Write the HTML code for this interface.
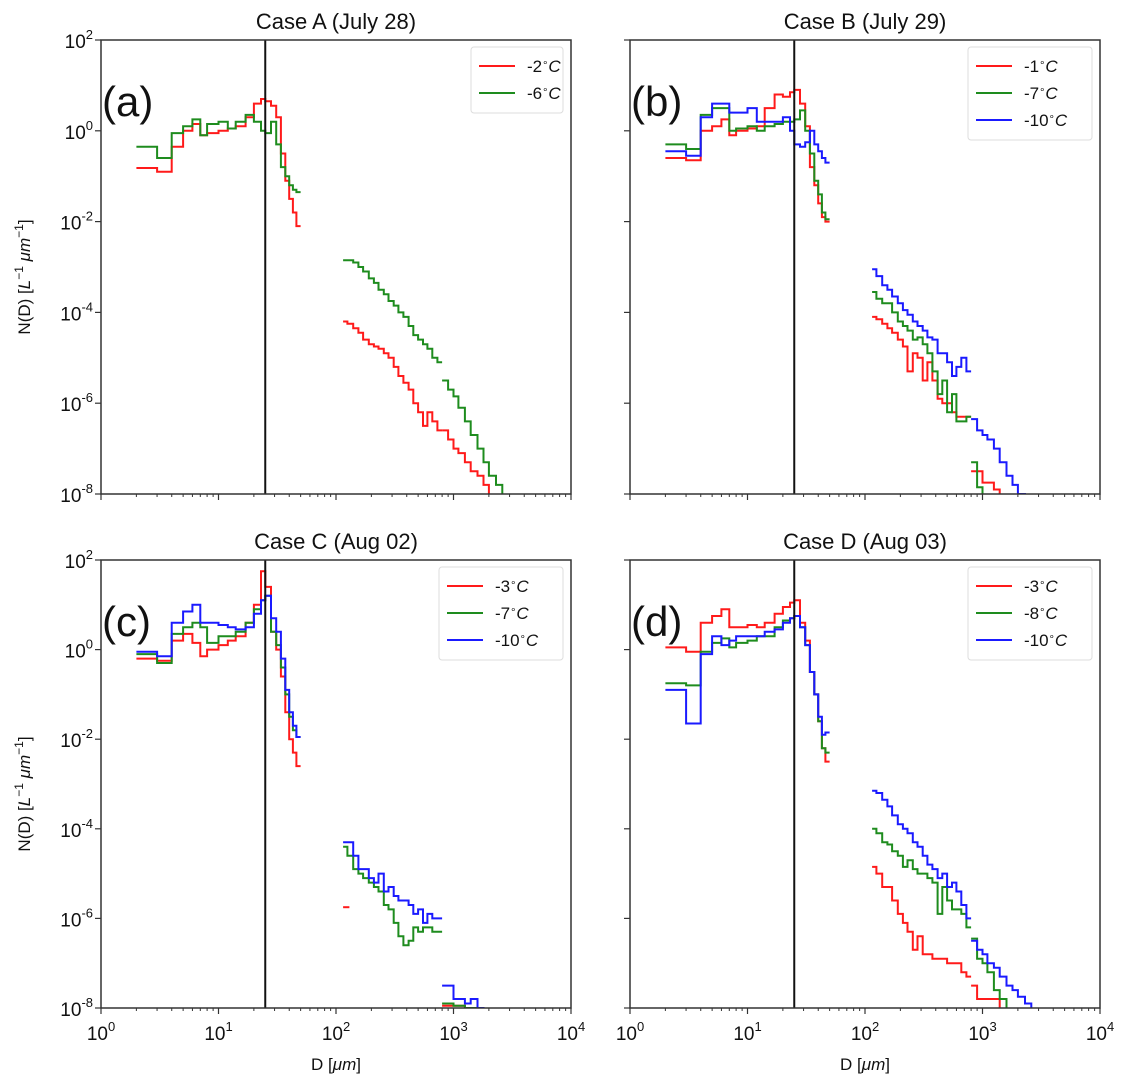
<!DOCTYPE html>
<html><head><meta charset="utf-8"><style>
body{margin:0;background:#fff;}
svg{display:block;font-family:"Liberation Sans",sans-serif;}
</style></head><body>
<svg id="fig" width="1141" height="1082" xmlns="http://www.w3.org/2000/svg"></svg>
<script>
// ---- data: D edges (µm) and log10 N(D) per bin ----
const smallD=[2,3,4,5,6,7,8,10,12,14,17,20,23,25,28,31,34,37,40,43,46,50];
const aRedS=[-0.82,-0.9,-0.35,0.0,0.15,-0.1,-0.05,0.0,0.05,0.1,0.3,0.6,0.7,0.65,0.55,0.3,-0.5,-1.1,-1.5,-1.8,-2.1];
const aGrnS=[-0.35,-0.6,-0.05,0.1,0.25,-0.1,0.15,0.2,0.05,0.2,0.35,0.2,0.0,-0.05,0.2,-0.3,-0.8,-1.0,-1.2,-1.3,-1.35];
const bRedS=[-0.6,-0.65,0.0,0.1,0.25,-0.1,0.0,0.05,0.1,0.5,0.8,0.75,0.85,0.9,0.6,0.1,-0.8,-1.2,-1.6,-1.9,-2.0];
const bGrnS=[-0.3,-0.4,0.35,0.5,0.5,0.0,0.05,0.1,0.0,0.1,0.15,0.2,0.2,0.25,0.45,0.0,-0.5,-1.1,-1.4,-1.8,-1.95];
const bBluS=[-0.45,-0.55,0.3,0.6,0.6,0.4,0.4,0.5,0.2,0.2,0.2,0.3,0.0,-0.3,-0.35,-0.25,0.0,-0.3,-0.45,-0.6,-0.7];
const cRedS=[-0.2,-0.25,0.2,0.35,0.15,-0.15,0.0,0.1,0.2,0.3,0.6,1.0,1.75,1.4,0.4,0.0,-0.6,-1.4,-2.0,-2.3,-2.6];
const cGrnS=[-0.1,-0.3,0.35,0.5,0.6,0.5,0.15,0.3,0.3,0.4,0.6,0.9,1.1,1.2,0.4,0.1,-0.4,-1.0,-1.5,-1.8,-1.95];
const cBluS=[-0.05,-0.15,0.6,0.85,1.0,0.6,0.6,0.55,0.5,0.45,0.5,0.8,1.1,1.2,0.7,0.4,-0.2,-0.9,-1.4,-1.7,-1.95];
const dRedS=[0.05,-0.05,0.6,0.75,0.9,0.5,0.5,0.55,0.5,0.6,0.8,0.95,1.05,1.1,0.6,0.2,-0.5,-1.0,-1.6,-2.2,-2.5];
const dGrnS=[-0.75,-0.8,-0.05,0.15,0.25,0.05,0.15,0.2,0.3,0.3,0.5,0.65,0.7,0.75,0.5,0.1,-0.5,-1.0,-1.6,-2.2,-2.3];
const dBluS=[-0.9,-1.65,-0.1,0.3,0.1,0.2,0.3,0.3,0.3,0.4,0.45,0.6,0.7,0.75,0.5,0.1,-0.5,-1.0,-1.5,-1.9,-1.85];

const largeD=[115,125,140,155,170,190,210,230,255,280,310,340,375,415,455,500,550,600,660,730,800];
const aGrnL=[-2.85,-2.85,-2.9,-3.0,-3.1,-3.25,-3.35,-3.5,-3.6,-3.75,-3.85,-4.0,-4.1,-4.3,-4.5,-4.6,-4.7,-4.8,-5.0,-5.1];
const aRedL=[-4.2,-4.25,-4.35,-4.45,-4.6,-4.7,-4.75,-4.8,-4.9,-5.0,-5.2,-5.4,-5.55,-5.7,-6.0,-6.2,-6.5,-6.2,-6.4,-6.6];
const bBluL=[-3.05,-3.2,-3.4,-3.5,-3.65,-3.8,-3.95,-4.05,-4.2,-4.3,-4.4,-4.55,-4.6,-4.9,-4.9,-5.1,-5.4,-5.2,-5.0,-5.3];
const bGrnL=[-3.55,-3.7,-3.8,-3.8,-4.0,-4.2,-4.3,-4.4,-4.6,-4.55,-4.7,-4.9,-5.3,-5.8,-5.5,-6.2,-5.8,-6.4,-6.4,-6.3];
const bRedL=[-4.1,-4.15,-4.25,-4.35,-4.45,-4.6,-4.75,-5.3,-4.9,-5.0,-5.5,-5.1,-5.5,-5.9,-6.0,-6.0,-6.2,-6.3,-6.3,-6.3];
const cBluL=[-4.3,-4.3,-4.6,-4.9,-4.9,-5.1,-5.2,-5.0,-5.4,-5.3,-5.5,-5.6,-5.6,-5.7,-5.9,-5.8,-6.1,-5.9,-6.0,-6.0];
const cGrnL=[-4.4,-4.6,-4.9,-5.0,-5.1,-5.2,-5.3,-5.4,-5.7,-5.8,-6.1,-6.4,-6.6,-6.5,-6.2,-6.3,-6.2,-6.2,-6.3,-6.3];
const dBluL=[-3.15,-3.2,-3.35,-3.5,-3.7,-3.9,-4.0,-4.1,-4.3,-4.4,-4.6,-4.8,-4.9,-5.1,-5.0,-5.3,-5.2,-5.4,-5.7,-6.0];
const dGrnL=[-4.0,-4.1,-4.3,-4.35,-4.5,-4.6,-4.85,-4.7,-4.9,-5.0,-5.0,-5.1,-5.2,-5.9,-5.3,-5.6,-5.8,-5.8,-5.9,-6.2];
const dRedL=[-4.85,-5.0,-5.3,-5.3,-5.6,-5.9,-6.1,-6.3,-6.7,-6.4,-6.8,-6.8,-6.9,-6.9,-6.9,-7.0,-7.0,-7.0,-7.2,-7.3];
const cRedL=[-5.75,-5.75];
const cRedLD=[115,130];

const tailD=[800,900,1000,1100,1250,1400,1600,1800,2000,2300,2600,2900];
const aGrnT=[-5.5,-5.7,-5.85,-6.1,-6.4,-6.7,-7.0,-7.3,-7.6,-7.8,-8.2];
const aRedT=[-6.6,-6.8,-7.0,-7.1,-7.3,-7.5,-7.6,-7.8,-8.2,-8.5,-8.5];
const bBluT=[-6.35,-6.6,-6.7,-6.8,-7.0,-7.3,-7.6,-7.8,-8.0,-8.5,-8.5];
const bGrnT=[-7.3,-7.85,-8.3,-8.5,-8.5,-8.5,-8.5,-8.5,-8.5,-8.5,-8.5];
const bRedT=[-7.5,-7.5,-7.75,-7.75,-7.9,-8.3,-8.5,-8.5,-8.5,-8.5,-8.5];
const cBluT=[-7.5,-7.5,-7.8,-7.8,-7.9,-7.8,-8.0,-8.5,-8.5,-8.5,-8.5];
const cGrnT=[-7.9,-7.9,-7.95,-7.95,-8.0,-8.0,-8.5,-8.5,-8.5,-8.5,-8.5];
const cRedT=[-7.95,-7.95,-7.95,-7.95,-8.0,-8.5,-8.5,-8.5,-8.5,-8.5,-8.5];
const dBluT=[-6.5,-6.7,-6.8,-7.0,-7.1,-7.3,-7.5,-7.6,-7.75,-7.9,-8.5];
const dGrnT=[-6.45,-6.9,-7.0,-7.2,-7.6,-7.8,-8.5,-8.5,-8.5,-8.5,-8.5];
const dRedT=[-7.5,-7.8,-7.8,-7.8,-7.8,-8.5,-8.5,-8.5,-8.5,-8.5,-8.5];

const xTicks=[0,1,2,3,4];
const yTicks=[2,0,-2,-4,-6,-8];
const titles=["Case A (July 28)","Case B (July 29)","Case C (Aug 02)","Case D (Aug 03)"];
const letters=["(a)","(b)","(c)","(d)"];
const legendA=["-2","-6"], legendB=["-1","-7","-10"], legendC=["-3","-7","-10"], legendD=["-3","-8","-10"];
const cutoffD=25;

const NS="http://www.w3.org/2000/svg";
const svg=document.getElementById('fig');
function mk(tag,attrs,parent){const e=document.createElementNS(NS,tag);for(const k in attrs)e.setAttribute(k,attrs[k]);(parent||svg).appendChild(e);return e;}
const RED="#ff1a1a",GRN="#1e8c1e",BLU="#1a1aff";
const panels=[
 {x0:101,x1:571,y0:40,y1:494,name:'a'},
 {x0:630,x1:1100,y0:40,y1:494,name:'b'},
 {x0:101,x1:571,y0:560,y1:1008,name:'c'},
 {x0:630,x1:1100,y0:560,y1:1008,name:'d'}];
panels.forEach(p=>{p.sx=d=>p.x0+Math.log10(d)/4*(p.x1-p.x0);p.sy=l=>p.y0+(2-l)/10*(p.y1-p.y0);});

function series(p,D,vals,color,g){
  let d="";
  for(let i=0;i<vals.length;i++){
    const x0=p.sx(D[i]),x1=p.sx(D[i+1]);
    const y=p.sy(Math.max(vals[i],-8.6));
    d+=(i===0?"M":"L")+x0.toFixed(1)+","+y.toFixed(1)+"L"+x1.toFixed(1)+","+y.toFixed(1);
  }
  const path=mk('path',{d:d,fill:'none',stroke:color,'stroke-width':2},g);
  
  
}

function panel(i,sets,leg){
  const p=panels[i];
  const g=mk('g',{});
  
  
  const cp=mk('clipPath',{id:'cp'+i},g);
  mk('rect',{x:p.x0,y:p.y0,width:p.x1-p.x0,height:p.y1-p.y0},cp);
  const t=mk('text',{x:(p.x0+p.x1)/2,y:p.y0-11,'text-anchor':'middle','font-size':22,fill:'#111'},g);
  t.textContent=titles[i];
  
  
  const dg=mk('g',{'clip-path':'url(#cp'+i+')'},g);
  sets.forEach(s=>series(p,s[0],s[1],s[2],dg));
  const vl=mk('line',{x1:p.sx(cutoffD),x2:p.sx(cutoffD),y1:p.y0,y2:p.y1,stroke:'#111','stroke-width':2},g);
  
  
  const fr=mk('rect',{x:p.x0,y:p.y0,width:p.x1-p.x0,height:p.y1-p.y0,fill:'none',stroke:'#333','stroke-width':1.5},g);
  
  
  xTicks.forEach(k=>{
    const x=p.sx(Math.pow(10,k));
    mk('line',{x1:x,x2:x,y1:p.y1,y2:p.y1+6,stroke:'#333','stroke-width':1.2},g);
    if(k<4) for(let m=2;m<10;m++){const xm=p.sx(m*Math.pow(10,k));mk('line',{x1:xm,x2:xm,y1:p.y1,y2:p.y1+3,stroke:'#333','stroke-width':1},g);}
    if(i>=2){
      const tl=mk('text',{x:x,y:p.y1+32,'text-anchor':'middle','font-size':19,fill:'#111'},g);
      tl.innerHTML='10<tspan dy="-9" font-size="13">'+k+'</tspan>';
      
      
    }
  });
  yTicks.concat([1,-1,-3,-5,-7]).forEach(k=>{
    const y=p.sy(k);
    mk('line',{x1:p.x0-(k%2===0?6:0),x2:p.x0,y1:y,y2:y,stroke:'#333','stroke-width':1.2},g);
  });
  if(i%2===0){
    yTicks.forEach(k=>{
      const y=p.sy(k);
      const tl=mk('text',{x:p.x0-8,y:y+8,'text-anchor':'end','font-size':19,fill:'#111'},g);
      tl.innerHTML='10<tspan dy="-9" font-size="13">'+k+'</tspan>';
      
      
    });
    const cy=(p.y0+p.y1)/2+10;
    const yl=mk('text',{x:0,y:0,transform:'translate(30,'+cy+') rotate(-90)','text-anchor':'middle','font-size':17,fill:'#111'},g);
    yl.innerHTML='N(D) [<tspan font-style="italic">L</tspan><tspan dy="-7" font-size="12">−1</tspan><tspan dy="7">  </tspan><tspan font-style="italic">μm</tspan><tspan dy="-7" font-size="12">−1</tspan><tspan dy="7">]</tspan>';
    
    
  }
  if(i>=2){
    const xl=mk('text',{x:(p.x0+p.x1)/2,y:p.y1+62,'text-anchor':'middle','font-size':17,fill:'#111'},g);
    xl.innerHTML='D [<tspan font-style="italic">μm</tspan>]';
    
    
  }
  const lt=mk('text',{x:p.x0+1,y:p.y0+76,'font-size':42,fill:'#111'},g);
  lt.textContent=letters[i];
  
  
  const cols=[RED,GRN,BLU];
  const lw=i===0?92:124, lh=12+leg.length*27;
  const lx=p.x1-lw-8, ly=p.y0+7;
  const lg=mk('g',{},g);
  
  
  mk('rect',{x:lx,y:ly,width:lw,height:lh,rx:3,fill:'#fff',stroke:'#ddd','stroke-width':1},lg);
  leg.forEach((s,j)=>{
    const yy=ly+19+j*27;
    const ln=mk('line',{x1:lx+8,x2:lx+44,y1:yy,y2:yy,stroke:cols[j],'stroke-width':2},lg);
    
    
    const tx=mk('text',{x:lx+56,y:yy+6,'font-size':17,fill:'#111'},lg);
    tx.innerHTML=s+'<tspan dy="-6" font-size="10">∘</tspan><tspan dy="6" font-style="italic">C</tspan>';
    
    
  });
}
panel(0,[[smallD,aRedS,RED],[smallD,aGrnS,GRN],[largeD,aRedL,RED],[largeD,aGrnL,GRN],[tailD,aRedT,RED],[tailD,aGrnT,GRN]],legendA);
panel(1,[[smallD,bRedS,RED],[smallD,bGrnS,GRN],[smallD,bBluS,BLU],[largeD,bRedL,RED],[largeD,bGrnL,GRN],[largeD,bBluL,BLU],[tailD,bRedT,RED],[tailD,bGrnT,GRN],[tailD,bBluT,BLU]],legendB);
panel(2,[[smallD,cRedS,RED],[smallD,cGrnS,GRN],[smallD,cBluS,BLU],[cRedLD,cRedL,RED],[largeD,cGrnL,GRN],[largeD,cBluL,BLU],[tailD,cRedT,RED],[tailD,cGrnT,GRN],[tailD,cBluT,BLU]],legendC);
panel(3,[[smallD,dRedS,RED],[smallD,dGrnS,GRN],[smallD,dBluS,BLU],[largeD,dRedL,RED],[largeD,dGrnL,GRN],[largeD,dBluL,BLU],[tailD,dRedT,RED],[tailD,dGrnT,GRN],[tailD,dBluT,BLU]],legendD);
</script>
</body></html>
